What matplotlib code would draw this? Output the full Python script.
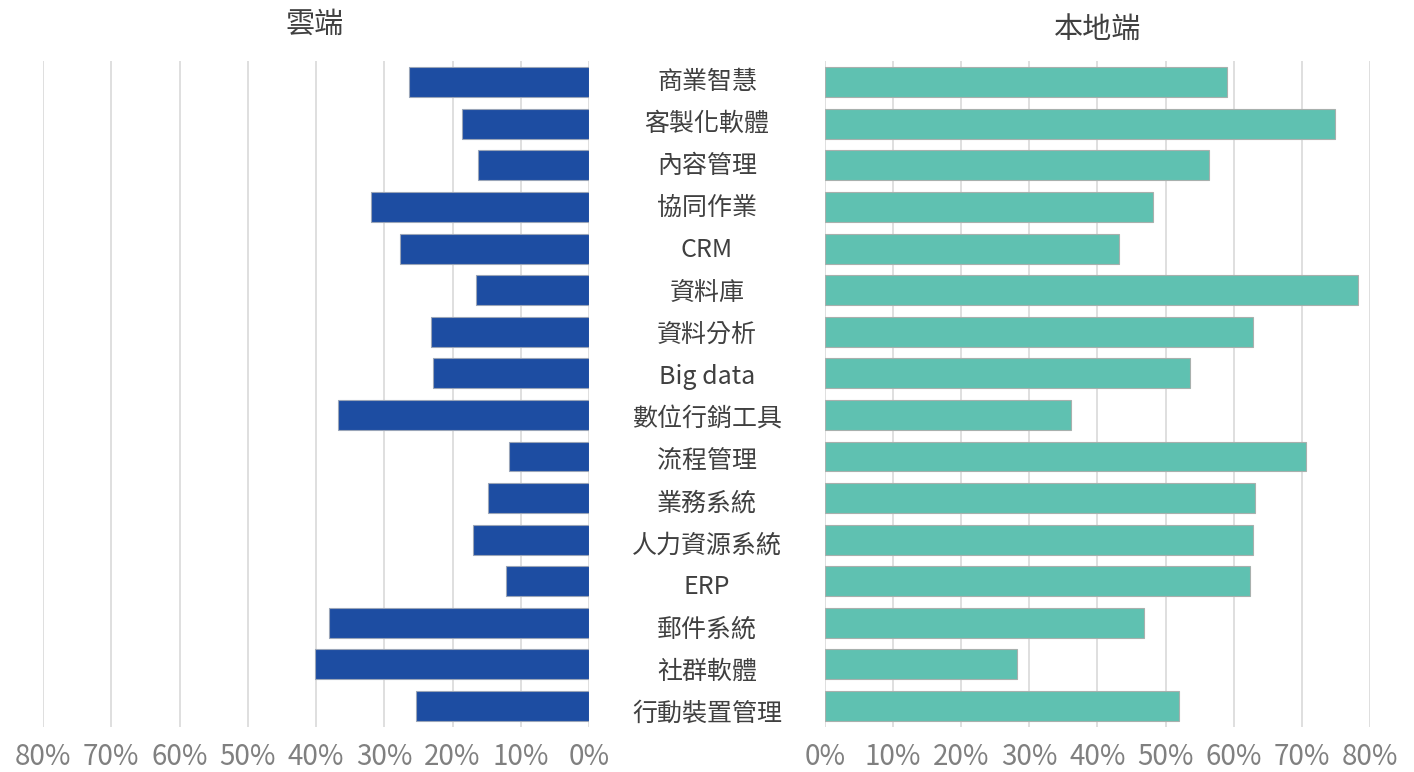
import matplotlib
matplotlib.use("Agg")
import matplotlib.pyplot as plt
import numpy as np

plt.rcParams['font.family'] = ['Noto Sans CJK TC', 'DejaVu Sans']

categories = ["商業智慧", "客製化軟體", "內容管理", "協同作業", "CRM", "資料庫",
              "資料分析", "Big data", "數位行銷工具", "流程管理", "業務系統",
              "人力資源系統", "ERP", "郵件系統", "社群軟體", "行動裝置管理"]
cloud = [26.4, 18.6, 16.3, 31.9, 27.7, 16.6, 23.1, 22.9, 36.8, 11.7, 14.8,
         17.0, 12.2, 38.1, 40.1, 25.3]
local = [59.0, 74.9, 56.4, 48.2, 43.2, 78.3, 62.8, 53.6, 36.1, 70.6, 63.1,
         62.8, 62.4, 46.8, 28.2, 52.0]
ticks = [0, 10, 20, 30, 40, 50, 60, 70, 80]
tick_labels = [f"{t}%" for t in ticks]

fig = plt.figure(figsize=(14.14, 7.72), dpi=100)
ax_l = fig.add_axes([0.0304, 0.0585, 0.3862, 0.862])
ax_r = fig.add_axes([0.5834, 0.0585, 0.3855, 0.862])

y = np.arange(len(categories))

ax_l.barh(y, cloud, height=0.72, color="#1d4da2", edgecolor="#9aa5b8", linewidth=0.8, zorder=3)
ax_r.barh(y, local, height=0.72, color="#5fc1b1", edgecolor="#a8b0ad", linewidth=0.8, zorder=3)

for ax in (ax_l, ax_r):
    ax.set_xlim(0, 80)
    ax.set_ylim(len(categories) - 0.5, -0.5)
    ax.set_xticks(ticks)
    ax.set_xticklabels(tick_labels, fontsize=20, color="#808080")
    ax.set_yticks([])
    ax.grid(axis="x", color="#d9d9d9", linewidth=1.2, zorder=0)
    for s in ax.spines.values():
        s.set_visible(False)
    ax.tick_params(axis="x", length=0, pad=11)

ax_l.invert_xaxis()

# category names in the gap between the two panels
for i, c in enumerate(categories):
    fig.text(707 / 1414, 1 - (82 + i * 42.1) / 772, c, ha="center", va="center",
             fontsize=18, color="#404040")

fig.text(315 / 1414, 1 - 25 / 772, "雲端", ha="center", va="center", fontsize=21, color="#404040")
fig.text(1098 / 1414, 1 - 30 / 772, "本地端", ha="center", va="center", fontsize=21, color="#404040")

fig.savefig("out.png", dpi=100)
